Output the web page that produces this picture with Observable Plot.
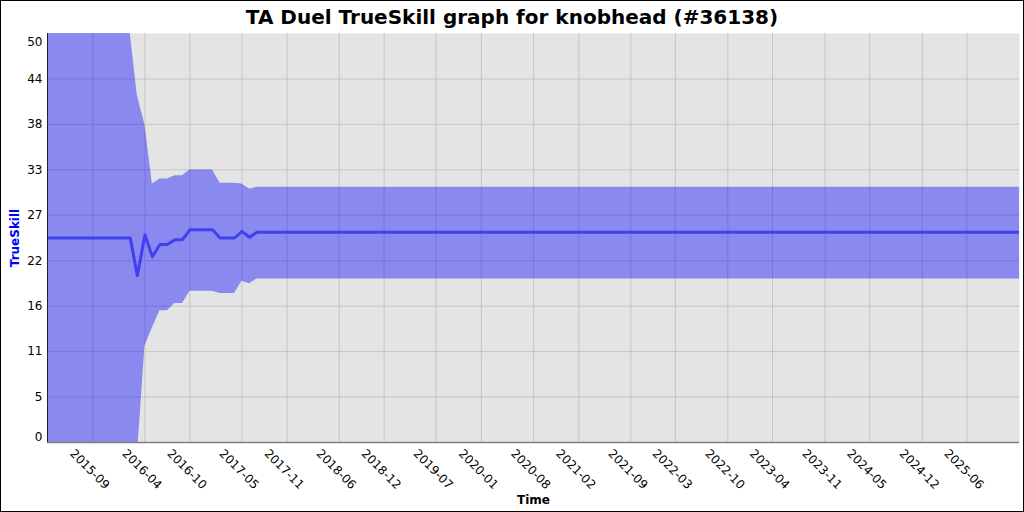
<!DOCTYPE html>
<html>
<head>
<meta charset="utf-8">
<script src="https://cdn.jsdelivr.net/npm/d3@7"></script>
<script src="https://cdn.jsdelivr.net/npm/@observablehq/plot@0.6"></script>
<style>
  html, body { margin: 0; padding: 0; background: #fff; }
  #wrap { width: 1022px; height: 510px; border: 1px solid #000; background: #fff; font-family: "DejaVu Sans", sans-serif; overflow: hidden; }
  #title { height: 32px; line-height: 33px; text-align: center; font-size: 20px; font-weight: bold; color: #000; }
</style>
</head>
<body>
<div id="wrap">
  <div id="title">TA Duel TrueSkill graph for knobhead (#36138)</div>
  <div id="chart"></div>
</div>
<script>
const dates = ["2015-03-01","2016-02-01","2016-03-01","2016-04-01","2016-05-01","2016-06-01","2016-07-01","2016-08-01","2016-09-01","2016-10-01","2016-11-01","2016-12-01","2017-01-01","2017-02-01","2017-03-01","2017-04-01","2017-05-01","2017-06-01","2017-07-01","2026-01-01"];
const mu    = [25.0, 25.0, 20.4, 25.4, 22.7, 24.2, 24.2, 24.8, 24.8, 26.0, 26.0, 26.0, 26.0, 25.0, 25.0, 25.0, 25.8, 25.1, 25.7, 25.7];
const upper = [50.0, 50.0, 42.4, 38.8, 31.6, 32.2, 32.2, 32.6, 32.6, 33.3, 33.3, 33.3, 33.3, 31.7, 31.7, 31.7, 31.6, 31.0, 31.2, 31.2];
const lower = [0.0, 0.0, -1.6, 11.8, 14.0, 16.1, 16.1, 17.0, 17.0, 18.5, 18.5, 18.5, 18.5, 18.2, 18.2, 18.2, 19.7, 19.4, 20.0, 20.0];
const xTicks = ["2015-09","2016-04","2016-10","2017-05","2017-11","2018-06","2018-12","2019-07","2020-01","2020-08","2021-02","2021-09","2022-03","2022-10","2023-04","2023-11","2024-05","2024-12","2025-06"];
const yTicks = [50/9, 100/9, 150/9, 200/9, 250/9, 300/9, 350/9, 400/9];
const yBottomTick = [0];
const yTopTick = [50];
const xDomain = ["2015-03-01", "2026-01-01"];
const yDomain = [0, 50];

const data = dates.map((d, i) => ({date: new Date(d + "T00:00:00Z"), mu: mu[i], hi: upper[i], lo: lower[i]}));
const xTickDates = xTicks.map(t => new Date(t + "-01T00:00:00Z"));
const fmtY = v => String(Math.trunc(v + 1e-9));

const chart = Plot.plot({
  width: 1022,
  height: 478,
  marginTop: 0,
  marginLeft: 46,
  marginRight: 4,
  marginBottom: 69,
  style: {fontFamily: "DejaVu Sans, sans-serif", fontSize: "12px", color: "#000", background: "#fff"},
  x: {type: "utc", domain: xDomain.map(d => new Date(d + "T00:00:00Z"))},
  y: {domain: yDomain},
  marks: [
    Plot.frame({fill: "#e4e4e4", stroke: null}),
    Plot.gridX(xTickDates, {stroke: "#c4c4c4", strokeOpacity: 1, strokeWidth: 1}),
    Plot.gridY(yTicks, {stroke: "#c4c4c4", strokeOpacity: 1, strokeWidth: 1}),
    Plot.areaY(data, {x: "date", y1: "lo", y2: "hi", fill: "#0000ff", fillOpacity: 0.4, clip: true}),
    Plot.lineY(data, {x: "date", y: "mu", stroke: "#4040f0", strokeWidth: 3, clip: true}),
    Plot.axisY(yTicks, {tickSize: 0, tickPadding: 5, tickFormat: fmtY, label: null}),
    Plot.axisY(yBottomTick, {tickSize: 0, tickPadding: 5, tickFormat: fmtY, label: null, dy: -5.5}),
    Plot.axisY(yTopTick, {tickSize: 0, tickPadding: 5, tickFormat: fmtY, label: null, dy: 9}),
    Plot.axisX(xTickDates, {tickSize: 0, tickFormat: d3.utcFormat("%Y-%m"), tickRotate: 45, textAnchor: "middle", lineAnchor: "middle", dx: -3, dy: 15, label: null}),
    Plot.ruleY([yDomain[0]], {stroke: "#808080", strokeWidth: 1.5}),
    Plot.ruleX([xDomain[0]].map(d => new Date(d + "T00:00:00Z")), {stroke: "#222", strokeWidth: 1}),
    Plot.text(["Time"], {frameAnchor: "bottom", dy: 61, fontWeight: "bold", fontSize: 12}),
    Plot.text(["TrueSkill"], {frameAnchor: "left", dx: -32, rotate: -90, textAnchor: "middle", fill: "#0000ff", fontWeight: "bold", fontSize: 12})
  ]
});
document.getElementById("chart").appendChild(chart);
</script>
</body>
</html>
